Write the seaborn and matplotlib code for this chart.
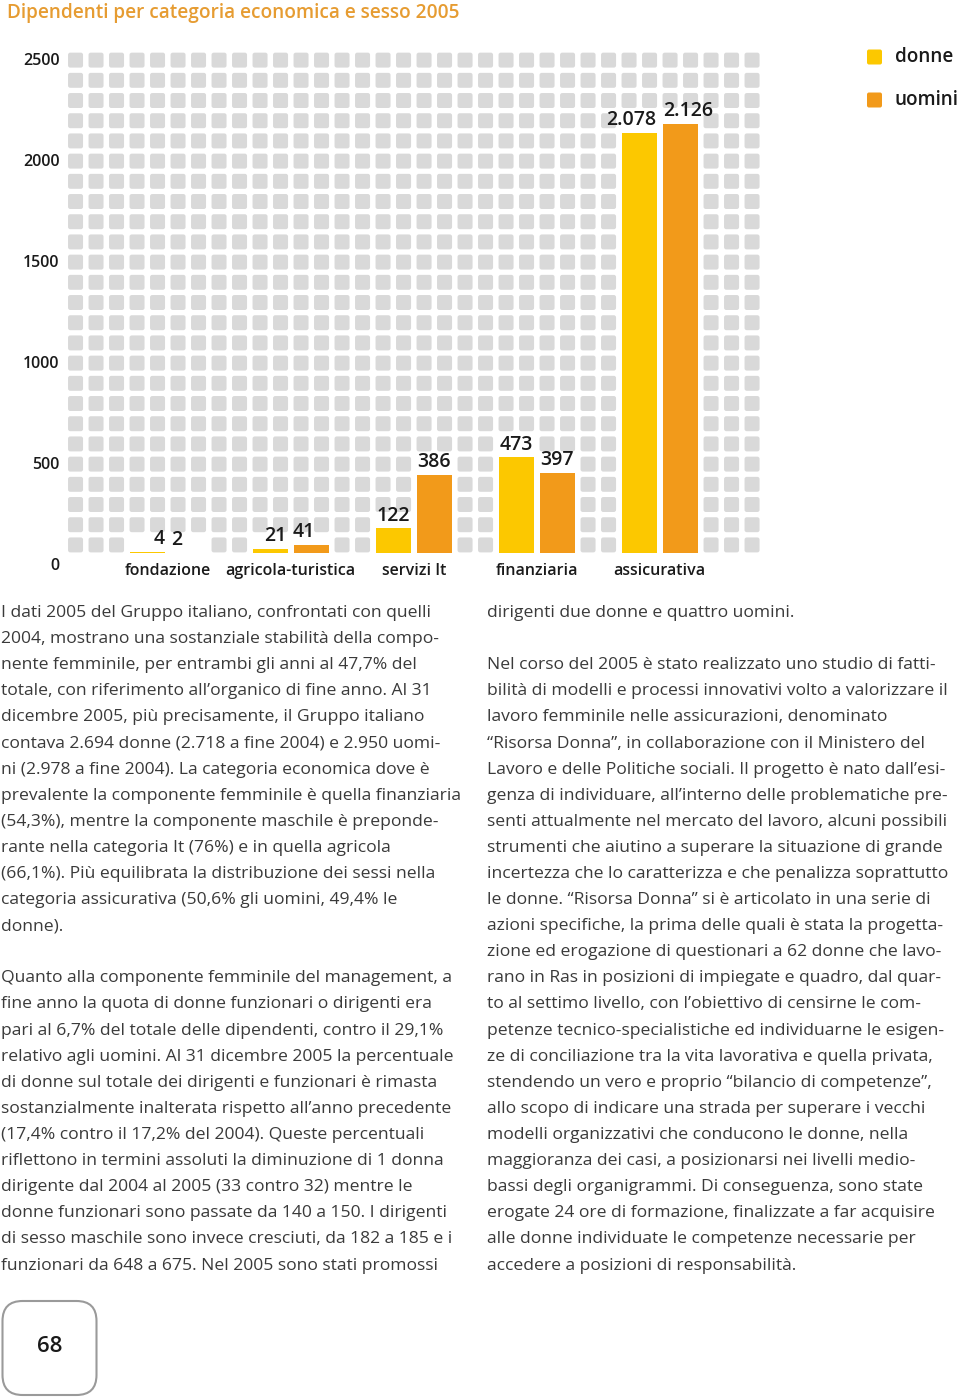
import matplotlib
matplotlib.use("Agg")
import matplotlib.pyplot as plt
import matplotlib.transforms as mtransforms
from matplotlib.patches import FancyBboxPatch
from matplotlib.collections import PatchCollection
import seaborn as sns
import pandas as pd

# data
categorie = ["fondazione", "agricola-turistica", "servizi It", "finanziaria", "assicurativa"]
donne = [4, 21, 122, 473, 2078]
uomini = [2, 41, 386, 397, 2126]
sessi = ["donne", "uomini"]
colori = {"donne": "#FCC800", "uomini": "#F29A1A"}
y_ticks = [0, 500, 1000, 1500, 2000, 2500]

df = pd.DataFrame({
    "categoria": categorie * 2,
    "sesso": ["donne"] * len(categorie) + ["uomini"] * len(categorie),
    "valore": donne + uomini,
})

sns.set_theme(style="white")
plt.rcParams["font.family"] = ["Open Sans", "DejaVu Sans"]

W, H = 960, 1397
fig = plt.figure(figsize=(W / 100, H / 100), dpi=100)
px = fig.dpi_scale_trans  # 1 unit = 100 px

def fx(x):
    return x / W

def fy(y):
    return 1 - y / H

# chart area: 34 columns of squares, 25 rows of 100
ax = fig.add_axes([fx(65.3), fy(553), 697 / W, 505 / H])

sns.barplot(data=df, x="categoria", y="valore", hue="sesso", order=categorie,
            hue_order=sessi, palette=colori, width=4 / 6, gap=0.134,
            saturation=1, linewidth=0, legend=False, ax=ax, zorder=2)
ax.set_xlim(-0.8333, 4.8333)
ax.set_ylim(0, 2500)

# background squares, removed behind bars and value labels
sq_w = 0.122
sq_h = 74
squares = []
for j in range(34):
    x0 = -0.75 + j / 6
    gi, pos = divmod(j - 3, 6)
    for k in range(25):
        if 0 <= gi < len(categorie) and pos < 4:
            v = donne[gi] if pos < 2 else uomini[gi]
            if k * 100 < v + 55:
                continue
        squares.append(FancyBboxPatch((x0 - sq_w / 2, k * 100 + 3), sq_w, sq_h,
                                      boxstyle="round,pad=0,rounding_size=0.018",
                                      mutation_aspect=600))
ax.add_collection(PatchCollection(squares, facecolor="#D9D9D9", edgecolor="none", zorder=0.5))

# value labels, nudged sideways (px) like the original layout
nudge = {"donne": [12, 5, 0, 0, -8], "uomini": [-12, -7, 0, 0, 8]}
for s, cont in zip(sessi, ax.containers):
    texts = ax.bar_label(cont, labels=[f"{int(b.get_height()):,}".replace(",", ".") for b in cont],
                         padding=2, fontsize=14, color="#1a1a1a", fontweight="semibold")
    for t, dx in zip(texts, nudge[s]):
        x_off, y_off = t.xyann
        t.xyann = (x_off + dx * 0.72, y_off)

for sp in ax.spines.values():
    sp.set_visible(False)
ax.set_xlabel("")
ax.set_ylabel("")
ax.set_yticks(y_ticks)
ax.set_yticklabels([str(t) for t in y_ticks], fontsize=11.5, fontweight="semibold", color="#1a1a1a")
ax.tick_params(axis="y", length=0, pad=4)
ax.tick_params(axis="x", length=0, pad=7, labelsize=11.5, labelcolor="#1a1a1a")
for lab in ax.get_xticklabels():
    lab.set_fontweight("semibold")
shift = mtransforms.ScaledTranslation(0, -0.11, px)
for lab in ax.get_yticklabels():
    lab.set_transform(lab.get_transform() + shift)

# legend
for i, s in enumerate(sessi):
    yc = 57 + i * 43
    fig.add_artist(FancyBboxPatch((867 / 100, (H - yc - 7.5) / 100), 0.15, 0.15,
                                  boxstyle="round,pad=0,rounding_size=0.02",
                                  transform=px, facecolor=colori[s], edgecolor="none"))
    fig.text(fx(895), fy(yc), s, fontsize=13.6, fontweight="semibold", color="#1a1a1a",
             va="center", ha="left")

# title
fig.text(fx(7), fy(13), "Dipendenti per categoria economica e sesso 2005", fontsize=13.7,
         fontweight="semibold", color="#E69C32", va="center", ha="left")

# body text
col_sx = [
    "I dati 2005 del Gruppo italiano, confrontati con quelli",
    "2004, mostrano una sostanziale stabilità della compo-",
    "nente femminile, per entrambi gli anni al 47,7% del",
    "totale, con riferimento all’organico di fine anno. Al 31",
    "dicembre 2005, più precisamente, il Gruppo italiano",
    "contava 2.694 donne (2.718 a fine 2004) e 2.950 uomi-",
    "ni (2.978 a fine 2004). La categoria economica dove è",
    "prevalente la componente femminile è quella finanziaria",
    "(54,3%), mentre la componente maschile è preponde-",
    "rante nella categoria It (76%) e in quella agricola",
    "(66,1%). Più equilibrata la distribuzione dei sessi nella",
    "categoria assicurativa (50,6% gli uomini, 49,4% le",
    "donne).",
    "",
    "Quanto alla componente femminile del management, a",
    "fine anno la quota di donne funzionari o dirigenti era",
    "pari al 6,7% del totale delle dipendenti, contro il 29,1%",
    "relativo agli uomini. Al 31 dicembre 2005 la percentuale",
    "di donne sul totale dei dirigenti e funzionari è rimasta",
    "sostanzialmente inalterata rispetto all’anno precedente",
    "(17,4% contro il 17,2% del 2004). Queste percentuali",
    "riflettono in termini assoluti la diminuzione di 1 donna",
    "dirigente dal 2004 al 2005 (33 contro 32) mentre le",
    "donne funzionari sono passate da 140 a 150. I dirigenti",
    "di sesso maschile sono invece cresciuti, da 182 a 185 e i",
    "funzionari da 648 a 675. Nel 2005 sono stati promossi",
]
col_dx = [
    "dirigenti due donne e quattro uomini.",
    "",
    "Nel corso del 2005 è stato realizzato uno studio di fatti-",
    "bilità di modelli e processi innovativi volto a valorizzare il",
    "lavoro femminile nelle assicurazioni, denominato",
    "“Risorsa Donna”, in collaborazione con il Ministero del",
    "Lavoro e delle Politiche sociali. Il progetto è nato dall’esi-",
    "genza di individuare, all’interno delle problematiche pre-",
    "senti attualmente nel mercato del lavoro, alcuni possibili",
    "strumenti che aiutino a superare la situazione di grande",
    "incertezza che lo caratterizza e che penalizza soprattutto",
    "le donne. “Risorsa Donna” si è articolato in una serie di",
    "azioni specifiche, la prima delle quali è stata la progetta-",
    "zione ed erogazione di questionari a 62 donne che lavo-",
    "rano in Ras in posizioni di impiegate e quadro, dal quar-",
    "to al settimo livello, con l’obiettivo di censirne le com-",
    "petenze tecnico-specialistiche ed individuarne le esigen-",
    "ze di conciliazione tra la vita lavorativa e quella privata,",
    "stendendo un vero e proprio “bilancio di competenze”,",
    "allo scopo di indicare una strada per superare i vecchi",
    "modelli organizzativi che conducono le donne, nella",
    "maggioranza dei casi, a posizionarsi nei livelli medio-",
    "bassi degli organigrammi. Di conseguenza, sono state",
    "erogate 24 ore di formazione, finalizzate a far acquisire",
    "alle donne individuate le competenze necessarie per",
    "accedere a posizioni di responsabilità.",
]
for x0, righe in [(1, col_sx), (487, col_dx)]:
    for i, riga in enumerate(righe):
        fig.text(fx(x0), fy(613 + 26.1 * i), riga, fontsize=12.6, fontweight="normal",
                 color="#3a3a3a", va="center", ha="left")

# page number box
fig.add_artist(FancyBboxPatch((2.5 / 100, (H - 1395) / 100), 0.94, 0.94,
                              boxstyle="round,pad=0,rounding_size=0.2", transform=px,
                              facecolor="white", edgecolor="#9a9a9a", linewidth=1.5))
fig.text(fx(49.5), fy(1346), "68", fontsize=16, fontweight="semibold", color="#1a1a1a",
         va="center", ha="center")

fig.savefig("out.png", dpi=100)
